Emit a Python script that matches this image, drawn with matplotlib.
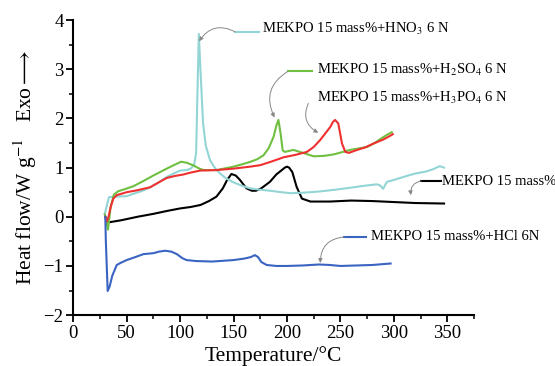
import matplotlib
matplotlib.use("Agg")
import matplotlib.pyplot as plt
from matplotlib.ticker import MultipleLocator

plt.rcParams['font.family'] = ['Liberation Serif', 'DejaVu Serif']
plt.rcParams['mathtext.fontset'] = 'stix'

# MEKPO 15 mass%
t_pure = [30, 31, 34, 45, 60, 75, 88, 100, 110, 119, 127, 134, 140, 144, 148, 152, 156, 162,
          167, 171, 176, 184, 190, 194, 198, 200, 202, 205, 209, 214, 222, 240, 260, 280,
          300, 320, 347]
q_pure = [0, -0.05, -0.11, -0.07, 0.0, 0.06, 0.12, 0.17, 0.2, 0.24, 0.32, 0.41, 0.58, 0.75,
          0.87, 0.84, 0.75, 0.58, 0.53, 0.53, 0.58, 0.71, 0.86, 0.93, 1.0, 1.02, 1.0, 0.91,
          0.61, 0.37, 0.31, 0.31, 0.33, 0.32, 0.3, 0.28, 0.27]

# + HNO3
t_hno3 = [29.5, 31, 33.5, 40, 50, 58, 65, 72, 80, 87.5, 94, 100, 106, 110, 113, 115, 116.5,
          117.5, 119, 121.5, 124, 128, 133, 137.5, 143, 150, 158, 165, 175, 184, 195, 203,
          215, 228, 245, 259, 272, 284, 287, 290, 293.5, 300, 312, 320, 330, 337, 343, 347]
q_hno3 = [0.05, 0.2, 0.4, 0.41, 0.42, 0.48, 0.53, 0.6, 0.7, 0.81, 0.88, 0.94, 0.95, 0.98,
          1.05, 1.3, 2.8, 3.72, 3.0, 1.9, 1.45, 1.15, 0.98, 0.88, 0.78, 0.7, 0.63, 0.58, 0.55,
          0.53, 0.5, 0.48, 0.49, 0.51, 0.55, 0.59, 0.63, 0.66, 0.64, 0.57, 0.71, 0.75, 0.83,
          0.88, 0.92, 0.97, 1.03, 1.0]

# + H2SO4
t_h2so4 = [29.5, 31, 32.5, 35, 38, 42, 48, 56, 65, 75, 87.5, 95, 101, 106, 112, 118, 122, 134,
           150, 160, 166, 172, 178, 183, 187.5, 190, 192, 194, 196, 198, 206, 215, 225, 235,
           244, 259, 275, 282, 288, 293, 298]
q_h2so4 = [0.05, -0.1, -0.26, 0.2, 0.45, 0.52, 0.56, 0.62, 0.72, 0.84, 0.98, 1.06, 1.12, 1.1,
           1.05, 0.98, 0.95, 0.95, 1.02, 1.08, 1.12, 1.17, 1.25, 1.4, 1.63, 1.85, 1.97, 1.7,
           1.35, 1.32, 1.36, 1.3, 1.23, 1.24, 1.27, 1.36, 1.42, 1.5, 1.59, 1.66, 1.72]

# + H3PO4
t_h3po4 = [30, 31.3, 33, 35, 37.5, 40.6, 50, 60, 71.9, 80, 87.5, 95, 103, 110, 118.8, 134, 150,
           165.6, 175, 185, 196.8, 208, 218.7, 225, 231, 236, 240.6, 243, 245, 248, 251.5,
           254.6, 258, 265.6, 273, 281, 290, 296.8, 299]
q_h3po4 = [0.0, -0.1, 0.0, 0.2, 0.37, 0.44, 0.5, 0.54, 0.6, 0.7, 0.79, 0.83, 0.86, 0.9, 0.94,
           0.95, 0.98, 1.02, 1.05, 1.12, 1.21, 1.26, 1.32, 1.42, 1.56, 1.7, 1.83, 1.93, 1.97,
           1.9, 1.49, 1.32, 1.3, 1.36, 1.41, 1.49, 1.57, 1.65, 1.68]

# + HCl
t_hcl = [30, 30.5, 32.2, 34, 36.5, 40.7, 45, 50, 58, 65.6, 75, 80, 86, 92, 97, 102, 106, 115,
         130, 150, 160, 166, 170, 173, 176, 181, 190, 200, 215, 230, 240, 250, 265, 280, 297]
q_hcl = [0.0, -0.5, -1.51, -1.42, -1.2, -0.98, -0.93, -0.88, -0.82, -0.76, -0.74, -0.71, -0.69,
         -0.71, -0.76, -0.84, -0.88, -0.9, -0.91, -0.88, -0.85, -0.82, -0.78, -0.82, -0.92,
         -0.98, -1.0, -1.0, -0.99, -0.97, -0.98, -1.0, -0.99, -0.98, -0.95]

labels = ['MEKPO 15 mass%+HNO$_3$ 6 N',
          'MEKPO 15 mass%+H$_2$SO$_4$ 6 N',
          'MEKPO 15 mass%+H$_3$PO$_4$ 6 N',
          'MEKPO 15 mass%',
          'MEKPO 15 mass%+HCl 6N']

fig = plt.figure(figsize=(5.55, 3.66), dpi=100)
ax = fig.add_axes([0.132, 0.139, 0.722, 0.806])

lw = 1.5
ax.plot(t_pure, q_pure, color='black', lw=lw)
ax.plot(t_hno3, q_hno3, color='#93d5d5', lw=lw)
ax.plot(t_h2so4, q_h2so4, color='#6fc040', lw=lw)
ax.plot(t_h3po4, q_h3po4, color='#f03030', lw=lw)
ax.plot(t_hcl, q_hcl, color='#3a64c2', lw=lw)

# annotations: (text pos, legend segment, arrow tip, colour)
notes = [
    ((176.6, 3.83), (151.6, 174.0, 3.76), (117.8, 3.57), '#93d5d5'),
    ((228.0, 2.98), (201.0, 223.4, 2.96), (188.4, 2.02), '#6fc040'),
    ((228.0, 2.41), None, (229.3, 1.71), None),
    ((345.0, 0.71), (325.6, 343.7, 0.73), (316.0, 0.44), 'black'),
    ((278.7, -0.41), (253.7, 274.3, -0.41), (231.2, -0.94), '#3a64c2'),
]
for lab, (tpos, seg, tip, col) in zip(labels, notes):
    ax.text(tpos[0], tpos[1], lab, fontsize=10.5, va='center', ha='left', clip_on=False)
    if seg is not None:
        ax.plot([seg[0], seg[1]], [seg[2], seg[2]], color=col, lw=1.5, clip_on=False)
        start = (seg[0], seg[2])
    else:
        start = (220.0, 2.31)
    ax.annotate('', xy=tip, xytext=start, annotation_clip=False,
                arrowprops=dict(arrowstyle='-|>', connectionstyle='arc3,rad=0.45',
                                color='#888888', lw=0.7, mutation_scale=6,
                                shrinkA=0, shrinkB=0))

ax.set_xlim(0, 375)
ax.set_ylim(-2, 4)
ax.xaxis.set_major_locator(MultipleLocator(50))
ax.xaxis.set_minor_locator(MultipleLocator(25))
ax.yaxis.set_major_locator(MultipleLocator(1))
ax.yaxis.set_minor_locator(MultipleLocator(0.5))

for s in ['top', 'right']:
    ax.spines[s].set_visible(False)
for s in ['left', 'bottom']:
    ax.spines[s].set_linewidth(1.5)
ax.tick_params(which='major', length=5, width=1.3, labelsize=13.5, pad=2)
ax.tick_params(which='minor', length=3, width=1.1)

ax.set_xlabel('Temperature/°C', fontsize=15.5, labelpad=3)
ax.set_ylabel('Heat flow/W g$^{-1}$   Exo$\\longrightarrow$', fontsize=15.5, labelpad=3)

fig.savefig('out.png', dpi=100)
